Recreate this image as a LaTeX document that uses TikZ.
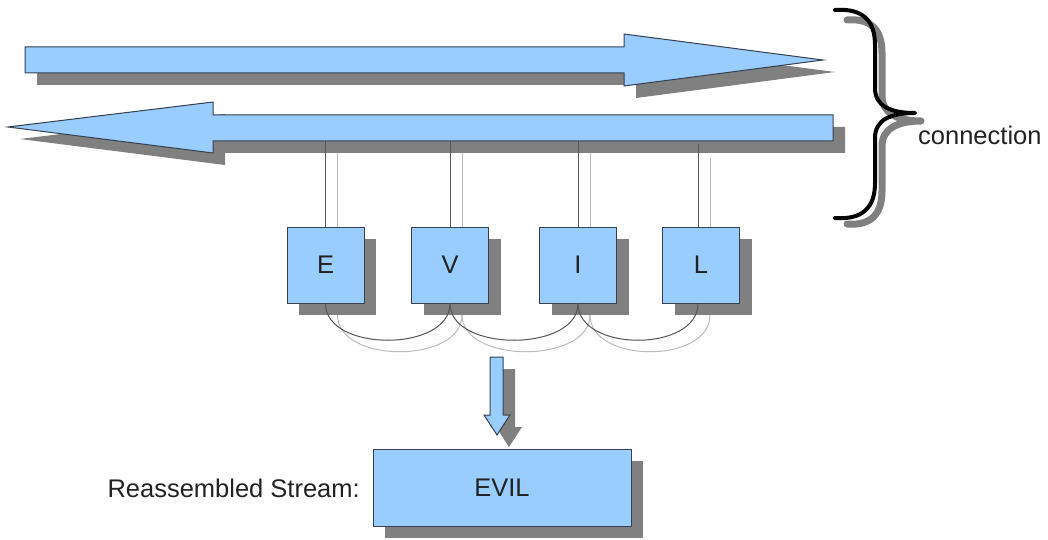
\documentclass[tikz,border=0pt]{standalone}
\usepackage{fontspec}
\setmainfont{Liberation Sans}
\usetikzlibrary{shadows}
\definecolor{fillblue}{HTML}{99CCFF}
\definecolor{shadowgray}{HTML}{808080}
\definecolor{edgecol}{HTML}{35414D}
\definecolor{wiredark}{HTML}{555555}
\definecolor{wirelight}{HTML}{BBBBBB}
\definecolor{textcol}{HTML}{222222}
\begin{document}
\begin{tikzpicture}[x=1pt,y=-1pt,
  blueshape/.style={fill=fillblue, draw=edgecol, line width=1pt},
  boxshadow/.style={drop shadow={shadow xshift=12pt, shadow yshift=-12pt, fill=shadowgray, opacity=1, draw=none}},
  letterbox/.style={blueshape, boxshadow, minimum width=77pt, minimum height=76pt, inner sep=0pt, text=textcol, font=\fontsize{25.5}{30}\selectfont},
  streambox/.style={blueshape, boxshadow, minimum width=258pt, minimum height=77pt, inner sep=0pt, text=textcol, font=\fontsize{25.5}{30}\selectfont},
  labeltext/.style={inner sep=0pt, text=textcol, font=\fontsize{25.5}{30}\selectfont},
  darkwire/.style={draw=wiredark, line width=1pt},
  lightwire/.style={draw=wirelight, line width=1pt},
  bracepath/.style={line width=4pt, line cap=round, line join=round}
]
\useasboundingbox (0,0) rectangle (1048,540);

% named reference coordinate: bottom edge of the return arrow shaft
\coordinate (revbottom) at (0,141);
\path (325.5,265) coordinate (Ec) (450,265) coordinate (Vc) (578,265) coordinate (Ic) (701,265) coordinate (Lc);

% ---------- arrow shadows ----------
\begin{scope}[shift={(12,12)}]
  \fill[shadowgray] (25,47) -- (624,47) -- (624,34) -- (823,60) -- (624,86) -- (624,73) -- (25,73) -- cycle;
  \fill[shadowgray] (833,115) -- (213,115) -- (213,102) -- (8,127) -- (213,153) -- (213,141) -- (833,141) -- cycle;
  \fill[shadowgray] (490,357) -- (503,357) -- (503,415) -- (510,415) -- (497,435) -- (484,415) -- (490,415) -- cycle;
\end{scope}

% ---------- arrows ----------
\path[blueshape] (25,47) -- (624,47) -- (624,34) -- (823,60) -- (624,86) -- (624,73) -- (25,73) -- cycle;
\path[blueshape] (833,115) -- (213,115) -- (213,102) -- (8,127) -- (213,153) -- (213,141) -- (833,141) -- cycle;
\path[blueshape] (490,357) -- (503,357) -- (503,415) -- (510,415) -- (497,435) -- (484,415) -- (490,415) -- cycle;

% ---------- light wires (behind boxes) ----------
\draw[lightwire] ([xshift=12pt]Ec |- 0,227) -- ++(0,-74);
\draw[lightwire] ([xshift=12pt]Vc |- 0,227) -- ++(0,-74);
\draw[lightwire] ([xshift=12pt]Ic |- 0,227) -- ++(0,-74);
\draw[lightwire] ([xshift=9pt]Lc |- 0,227) -- ++(0,-69);

% ---------- light arcs ----------
\draw[lightwire] (337.5,315) .. controls +(0,49) and +(0,49) .. (462,315);
\draw[lightwire] (462,315) .. controls +(0,49) and +(0,49) .. (590,315);
\draw[lightwire] (590,315) .. controls +(0,49) and +(0,49) .. (710,315);

% ---------- boxes ----------
\node[letterbox] (E) at (Ec) {E};
\node[letterbox] (V) at (Vc) {V};
\node[letterbox] (I) at (Ic) {I};
\node[letterbox] (L) at (Lc) {L};

\node[streambox] (S) at (502,487.5) {EVIL};
\node[labeltext, anchor=base east] (lbl) at (360,497) {Reassembled Stream:};

% ---------- dark wires ----------
\draw[darkwire] (E.north) -- (E.north |- revbottom);
\draw[darkwire] (V.north) -- (V.north |- revbottom);
\draw[darkwire] (I.north) -- (I.north |- revbottom);
\draw[darkwire] ([xshift=-3pt]L.north) -- ++(0,-82);

% ---------- dark arcs ----------
\draw[darkwire] (E.south) .. controls +(0,49) and +(0,49) .. (V.south);
\draw[darkwire] (V.south) .. controls +(0,49) and +(0,49) .. (I.south);
\draw[darkwire] (I.south) .. controls +(0,49) and +(0,49) .. ([xshift=-3pt]L.south);

% ---------- brace ----------
\begin{scope}[shift={(9,8)}]
\draw[bracepath, shadowgray, line width=7pt] (838,12) .. controls (862,10) and (873,22) .. (873,45) -- (873,88)
  .. controls (873,106) and (890,113) .. (912,113)
  .. controls (890,113) and (873,120) .. (873,138) -- (873,183)
  .. controls (873,206) and (862,218) .. (838,216);
\end{scope}
\draw[bracepath, black] (835,10) .. controls (862,8) and (875,20) .. (875,45) -- (875,88)
  .. controls (875,106) and (890,113) .. (915,113)
  .. controls (890,113) and (875,120) .. (875,138) -- (875,183)
  .. controls (875,208) and (862,220) .. (835,218);

\node[labeltext, anchor=west] (conn) at (918,135) {connection};
\end{tikzpicture}
\end{document}
